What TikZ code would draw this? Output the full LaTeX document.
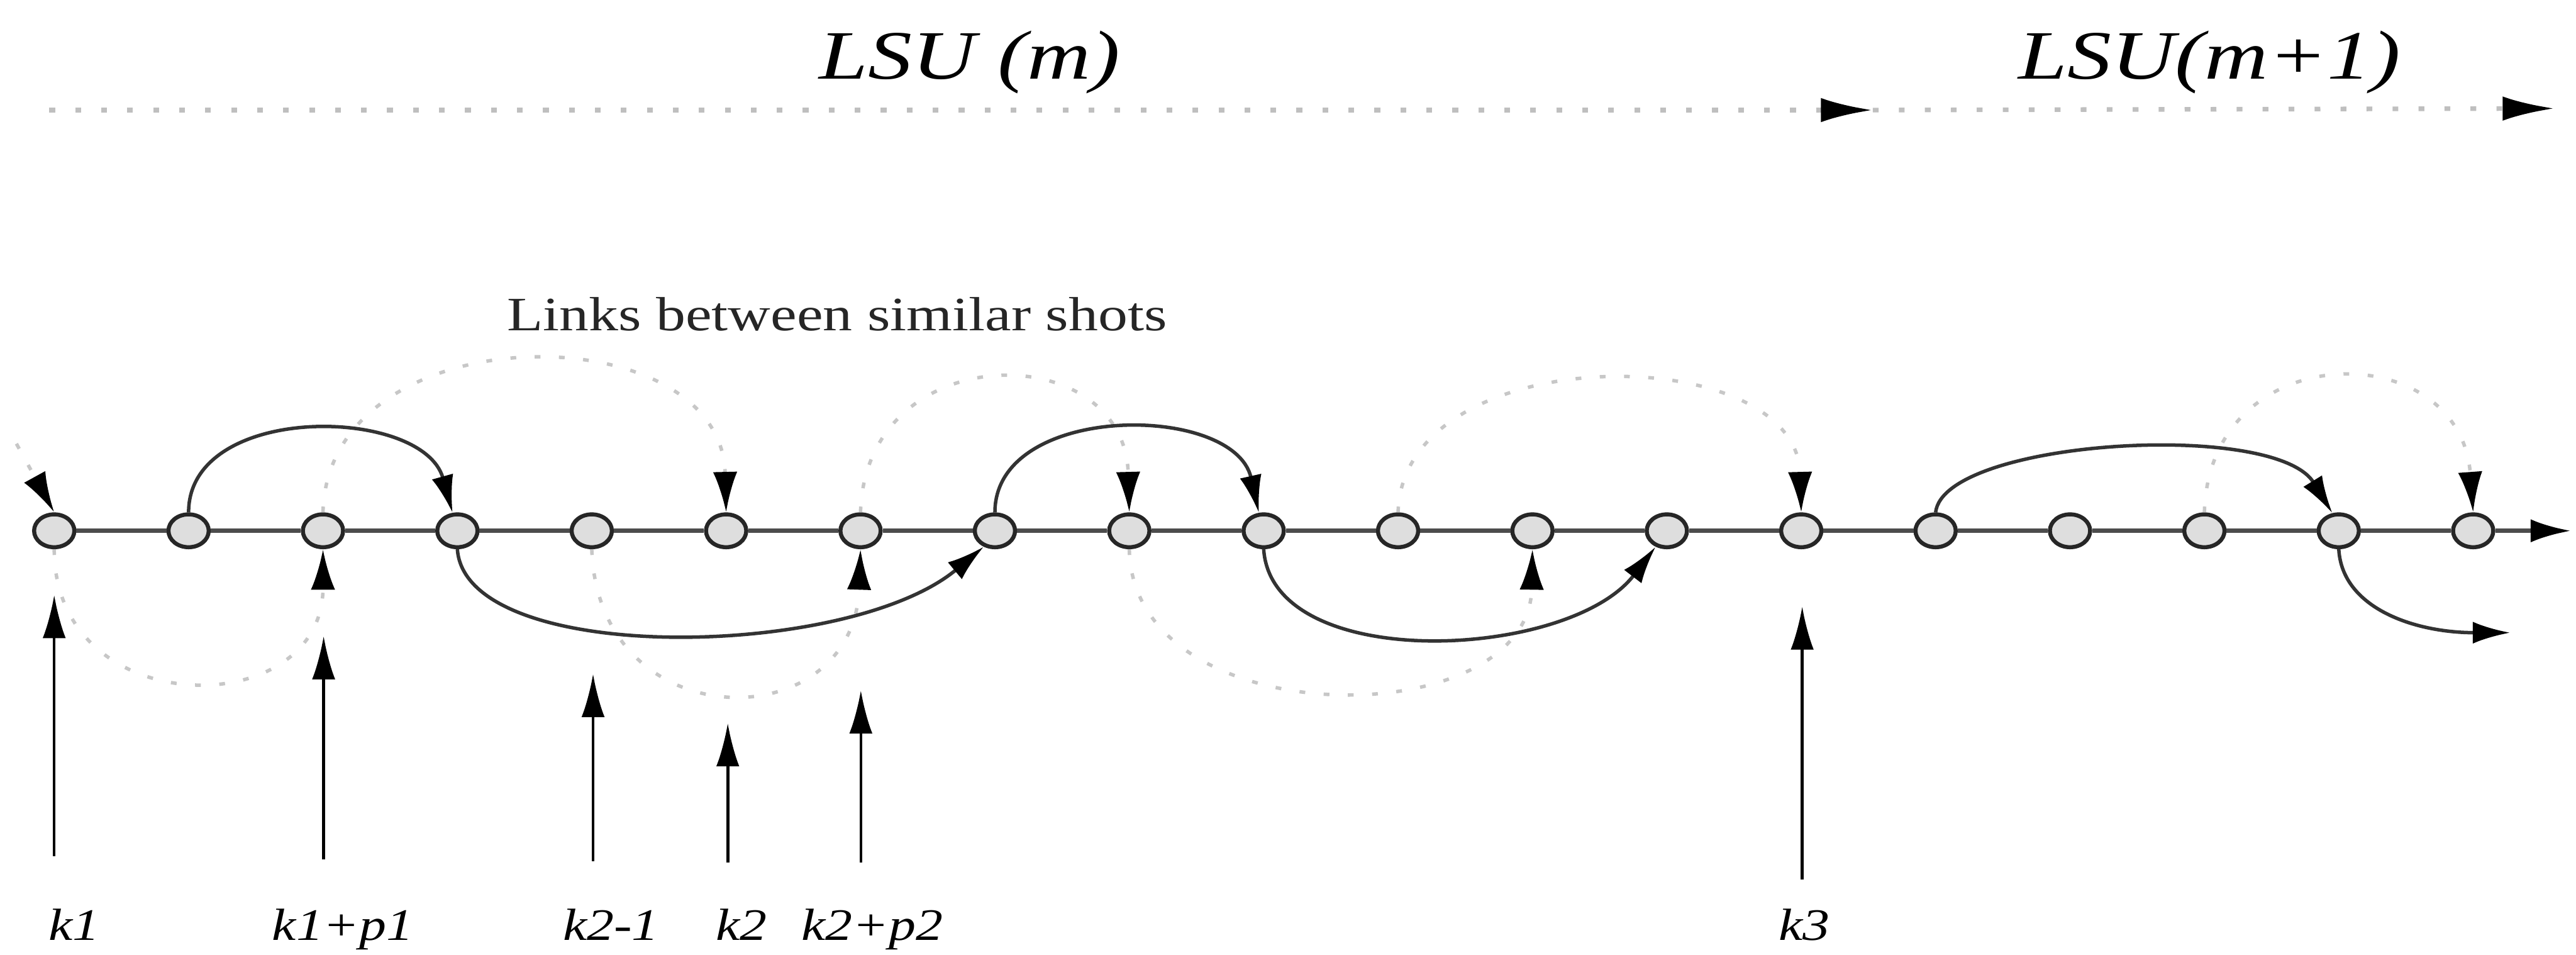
\documentclass[tikz,border=0pt]{standalone}
\usepackage{fontspec}
\setmainfont{Liberation Serif}
\usepackage{graphicx}
\usetikzlibrary{arrows.meta,shapes.geometric}
\newcommand{\xstretch}[2]{\scalebox{#1}[1]{#2}}
\begin{document}
\begin{tikzpicture}[x=0.1mm,y=-0.1mm,
  shot/.style={ellipse, draw=black!85, line width=0.7pt, fill=black!13,
    minimum width=2.45mm, minimum height=2.0mm, inner sep=0pt},
  timeline/.style={draw=black!70, line width=0.75pt},
  link/.style={draw=black!80, line width=0.6pt, -{Latex[length=6.5pt,width=3.8pt,black]}},
  simlink/.style={draw=black!22, line width=0.6pt, dash pattern=on 1pt off 3.2pt,
    -{Latex[length=7pt,width=4.2pt,black]}},
  keyarrow/.style={draw=black, line width=0.5pt, -{Latex[length=7.5pt,width=4pt]}},
  lsuarrow/.style={draw=black!25, line width=0.8pt, dash pattern=on 1pt off 3.5pt,
    -{Latex[length=9pt,width=4.2pt,black]}},
  lbl/.style={anchor=base west, inner sep=0pt},
]
\useasboundingbox (0,0) rectangle (1568,581);

% LSU headings
\node[lbl] (lsum) at (498,48) {\xstretch{1.27}{\fontsize{12}{14}\selectfont\itshape LSU (m)}};
\node[lbl] (lsun) at (1228,48) {\xstretch{1.27}{\fontsize{12}{14}\selectfont\itshape LSU(m+1)}};
\coordinate (t0) at (30,67);
\coordinate (t1) at (1140,67);
\coordinate (t2) at (1555,66);
\draw[lsuarrow] (t0) -- (t1);
\draw[lsuarrow] (t1) -- (t2);

% caption
\node[lbl, text=black!85] (links) at (308,201)
  {\xstretch{1.23}{\fontsize{8.3}{10}\selectfont Links between similar shots}};

% shots
\foreach \i in {0,...,18} \node[shot] (c\i) at ({33+81.8*\i},323) {};
\foreach \i [count=\j from 1] in {0,...,17} \draw[timeline] (c\i) -- (c\j);
\coordinate (tend) at (1565,323);
\draw[timeline, -{Latex[length=7pt,width=4pt,black]}] (c18) -- (tend);

% links between similar shots (dotted)
\coordinate (s0) at (10,270);
\draw[simlink] (s0) -- (c0.north);
\draw[simlink] (c0.south) .. controls +(0,106) and +(0,106) .. (c2.south);
\draw[simlink] (c2.north) .. controls +(3,-122) and +(-3,-122) .. (c5.north);
\draw[simlink] (c4.south) .. controls +(4,116) and +(-4,116) .. (c6.south);
\draw[simlink] (c6.north) .. controls +(3,-107) and +(-3,-107) .. (c8.north);
\draw[simlink] (c8.south) .. controls +(2,114) and +(-2,114) .. (c11.south);
\draw[simlink] (c10.north) .. controls +(3,-106) and +(-3,-106) .. (c13.north);
\draw[simlink] (c16.north) .. controls +(3,-108) and +(-8,-108) .. (c18.north);

% solid links
\draw[link] (c1.north) .. controls +(0,-67) and +(-18,-65) .. (c3.105);
\draw[link] (c3.south) .. controls +(5,71) and +(-83,69) .. (c7.235);
\draw[link] (c7.north) .. controls +(0,-67) and +(-15,-67) .. (c9.105);
\draw[link] (c9.south) .. controls +(5,76) and +(-53,69) .. (c12.235);
\draw[link] (c14.north) .. controls +(5,-44) and +(-35,-57) .. (c17.110);
\coordinate (e17) at (1528,385);
\draw[link] (c17.south) .. controls +(2,36) and +(-58,0) .. (e17);

% key frame arrows
\coordinate (k1b) at (33,521);   \coordinate (k1t) at (33,362);
\coordinate (kpb) at (197,523);  \coordinate (kpt) at (197,387);
\coordinate (kmb) at (361,524);  \coordinate (kmt) at (361,410);
\coordinate (k2b) at (443,525);  \coordinate (k2t) at (443,440);
\coordinate (kqb) at (524,525);  \coordinate (kqt) at (524,420);
\coordinate (k3b) at (1097,535); \coordinate (k3t) at (1097,369);
\draw[keyarrow] (k1b) -- (k1t);
\draw[keyarrow] (kpb) -- (kpt);
\draw[keyarrow] (kmb) -- (kmt);
\draw[keyarrow] (k2b) -- (k2t);
\draw[keyarrow] (kqb) -- (kqt);
\draw[keyarrow] (k3b) -- (k3t);

% labels
\node[lbl] (lk1) at (29,572) {\xstretch{1.2}{\fontsize{7.8}{9}\selectfont\itshape k1}};
\node[lbl] (lkp) at (165,572) {\xstretch{1.2}{\fontsize{7.8}{9}\selectfont\itshape k1+p1}};
\node[lbl] (lkm) at (342,572) {\xstretch{1.2}{\fontsize{7.8}{9}\selectfont\itshape k2-1}};
\node[lbl] (lk2) at (435,572) {\xstretch{1.2}{\fontsize{7.8}{9}\selectfont\itshape k2}};
\node[lbl] (lkq) at (487,572) {\xstretch{1.2}{\fontsize{7.8}{9}\selectfont\itshape k2+p2}};
\node[lbl] (lk3) at (1082,572) {\xstretch{1.2}{\fontsize{7.8}{9}\selectfont\itshape k3}};
\end{tikzpicture}
\end{document}
